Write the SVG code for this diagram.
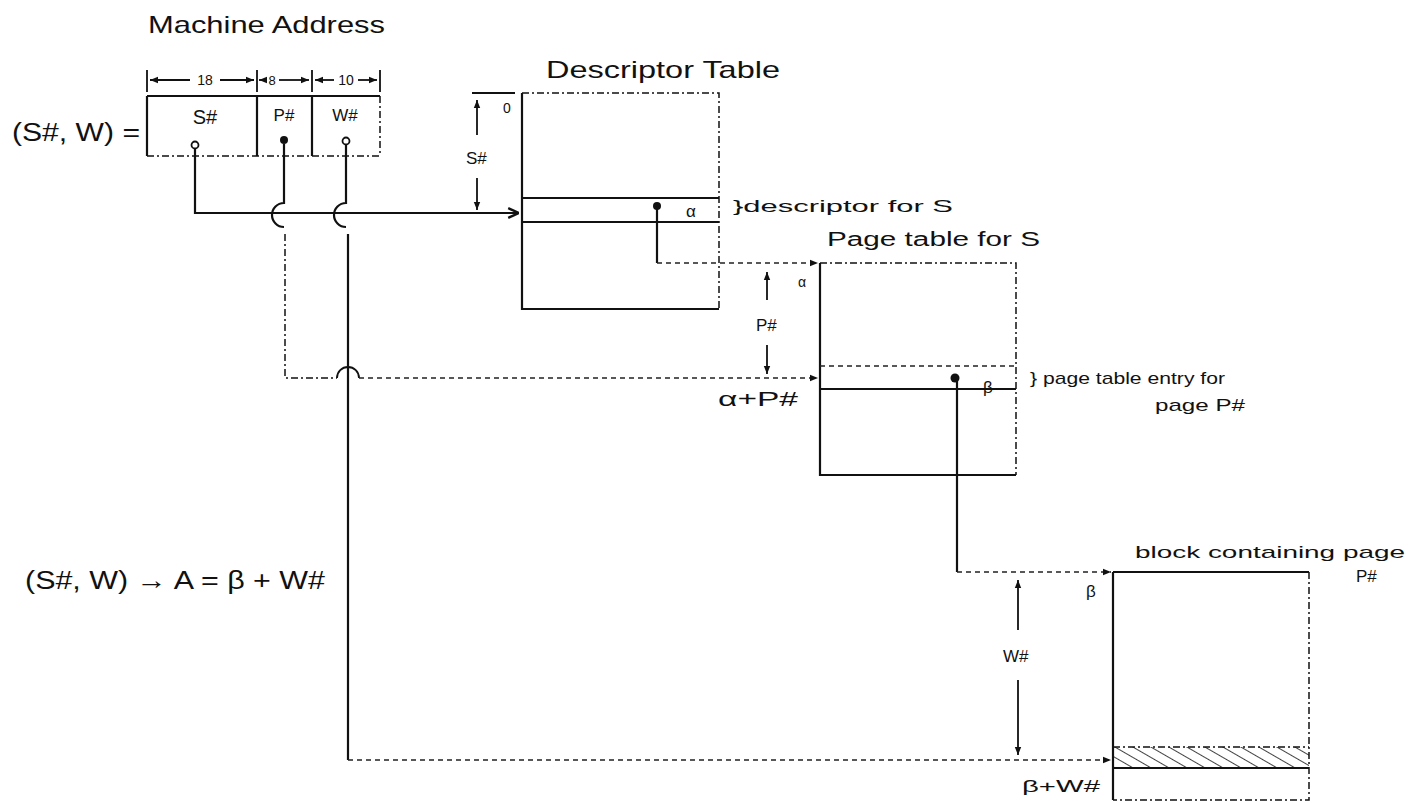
<svg xmlns="http://www.w3.org/2000/svg" width="1413" height="803" viewBox="0 0 1413 803">
<style>
text{font-family:"Liberation Sans","DejaVu Sans",sans-serif;fill:#111}
.ln{fill:none;stroke:#111;stroke-width:1.8}
.th{fill:none;stroke:#111;stroke-width:2.2}
.ds{fill:none;stroke:#111;stroke-width:1.5;stroke-dasharray:7 3 2 3}
.dot{fill:none;stroke:#222;stroke-width:1.4;stroke-dasharray:5 4}
.ar{fill:none;stroke:#111;stroke-width:1.8;marker-end:url(#ah)}
.t24{font-size:24px}
.t20{font-size:20px}
.t17{font-size:17px}
.t14{font-size:14px}
</style>
<defs>
<marker id="ah" viewBox="0 0 10 10" refX="10" refY="5" markerWidth="8" markerHeight="8" orient="auto-start-reverse" markerUnits="userSpaceOnUse">
<path d="M0,1 L10,5 L0,9 Z" fill="#111"/>
</marker>
<marker id="ao" viewBox="0 0 10 10" refX="10" refY="5" markerWidth="12" markerHeight="12" orient="auto" markerUnits="userSpaceOnUse">
<path d="M1,1 L10,5 L1,9" fill="none" stroke="#111" stroke-width="2"/>
</marker>
<pattern id="hatch" width="9" height="9" patternUnits="userSpaceOnUse" patternTransform="rotate(-60)">
<line x1="0" y1="0" x2="0" y2="9" stroke="#111" stroke-width="1.6"/>
</pattern>
</defs>
<rect width="1413" height="803" fill="#fff"/>

<g id="machine-address">
<text class="t24" x="148" y="33" textLength="237" lengthAdjust="spacingAndGlyphs">Machine Address</text>
<path class="ln" d="M147,70 V92 M257,70 V92 M312,70 V92 M380,70 V92"/>
<line class="ar" x1="190" y1="80" x2="150" y2="80"/>
<line class="ar" x1="220" y1="80" x2="254" y2="80"/>
<line class="ar" x1="266" y1="80" x2="259" y2="80"/>
<line class="ar" x1="279" y1="80" x2="309" y2="80"/>
<line class="ar" x1="334" y1="80" x2="315" y2="80"/>
<line class="ar" x1="358" y1="80" x2="377" y2="80"/>
<text class="t14" x="205" y="85" text-anchor="middle">18</text>
<text x="272" y="85" text-anchor="middle" style="font-size:13px">8</text>
<text class="t14" x="346" y="85" text-anchor="middle">10</text>
<path class="th" d="M147,96 H380 M147,96 V156 M257,96 V156 M312,96 V156"/>
<path class="ds" d="M380,96 V156 M147,156 H380"/>
<text class="t20" x="205" y="124" text-anchor="middle">S#</text>
<text class="t17" x="284" y="121" text-anchor="middle">P#</text>
<text class="t17" x="345" y="121" text-anchor="middle">W#</text>
<text x="12" y="141" style="font-size:26px" textLength="128" lengthAdjust="spacingAndGlyphs">(S#, W) =</text>
</g>

<g id="descriptor-table">
<text class="t24" x="546" y="78" textLength="234" lengthAdjust="spacingAndGlyphs">Descriptor Table</text>
<path class="th" d="M522,93 V309 H719"/>
<path class="ds" d="M522,93 H719 V309"/>
<path class="ln" d="M522,198 H719 M522,222 H719"/>
<path class="ln" d="M472,93 H515"/>
<text class="t14" x="503" y="113">0</text>
<line class="ar" x1="477" y1="135" x2="477" y2="100"/>
<line class="ar" x1="477" y1="178" x2="477" y2="210"/>
<text class="t17" x="466" y="164">S#</text>
<text class="t17" x="686" y="217">α</text>
<text class="t17" x="733" y="212" textLength="220" lengthAdjust="spacingAndGlyphs">}descriptor for S</text>
</g>

<g id="page-table">
<text class="t20" x="827" y="246" textLength="213" lengthAdjust="spacingAndGlyphs">Page table for S</text>
<path class="th" d="M820,263 V475 H1016"/>
<path class="ds" d="M820,263 H1016 V475"/>
<path class="dot" d="M820,366 H1016"/>
<path class="ln" d="M820,389 H1016"/>
<text class="t14" x="798" y="287">α</text>
<line class="ar" x1="767" y1="300" x2="767" y2="272"/>
<line class="ar" x1="767" y1="345" x2="767" y2="374"/>
<text class="t17" x="756" y="331">P#</text>
<text class="t20" x="718" y="406" textLength="80" lengthAdjust="spacingAndGlyphs">α+P#</text>
<text class="t17" x="983" y="393">β</text>
<text class="t17" x="1030" y="384" textLength="195" lengthAdjust="spacingAndGlyphs">} page table entry for</text>
<text class="t17" x="1155" y="411" textLength="90" lengthAdjust="spacingAndGlyphs">page P#</text>
</g>

<g id="page-block">
<text class="t17" x="1135" y="558" textLength="270" lengthAdjust="spacingAndGlyphs">block containing page</text>
<text class="t17" x="1356" y="582">P#</text>
<rect x="1113" y="747" width="196" height="21" fill="url(#hatch)"/>
<path class="th" d="M1113,572 H1309 M1113,572 V800"/>
<path class="ds" d="M1309,572 V800 H1113 M1113,747 H1309"/>
<path class="ln" d="M1113,768 H1309"/>
<text class="t17" x="1086" y="597">β</text>
<line class="ar" x1="1018" y1="630" x2="1018" y2="580"/>
<line class="ar" x1="1018" y1="680" x2="1018" y2="755"/>
<text class="t17" x="1003" y="662">W#</text>
<text class="t17" x="1022" y="792" textLength="78" lengthAdjust="spacingAndGlyphs">β+W#</text>
</g>

<g id="formula">
<text x="25" y="589" style="font-size:26px" textLength="300" lengthAdjust="spacingAndGlyphs">(S#, W) → A = β + W#</text>
</g>

<g id="connectors">
<circle cx="195" cy="145" r="3.5" fill="#fff" stroke="#111" stroke-width="1.8"/>
<circle cx="284" cy="140" r="4" fill="#111"/>
<circle cx="346" cy="141" r="3.5" fill="#fff" stroke="#111" stroke-width="1.8"/>
<path class="th" d="M195,149 V213 H519" marker-end="url(#ao)"/>
<path class="th" d="M284,144 V203 A12,12 0 0 0 284,227"/>
<path class="ds" d="M285,234 V378 H337"/>
<path class="ln" d="M337,378 A11,11 0 0 1 359,378"/>
<path class="dot" d="M359,378 H818" marker-end="url(#ah)"/>
<path class="th" d="M346,145 V203 A12,12 0 0 0 346,227"/>
<path class="th" d="M348,234 V760"/>
<path class="dot" d="M348,760 H1111" marker-end="url(#ah)"/>
<circle cx="657" cy="206" r="4" fill="#111"/>
<path class="th" d="M657,206 V263"/>
<path class="dot" d="M657,263 H818" marker-end="url(#ah)"/>
<circle cx="955" cy="378" r="4.5" fill="#111"/>
<path class="th" d="M957,378 V572"/>
<path class="dot" d="M957,572 H1111" marker-end="url(#ah)"/>
</g>
</svg>
